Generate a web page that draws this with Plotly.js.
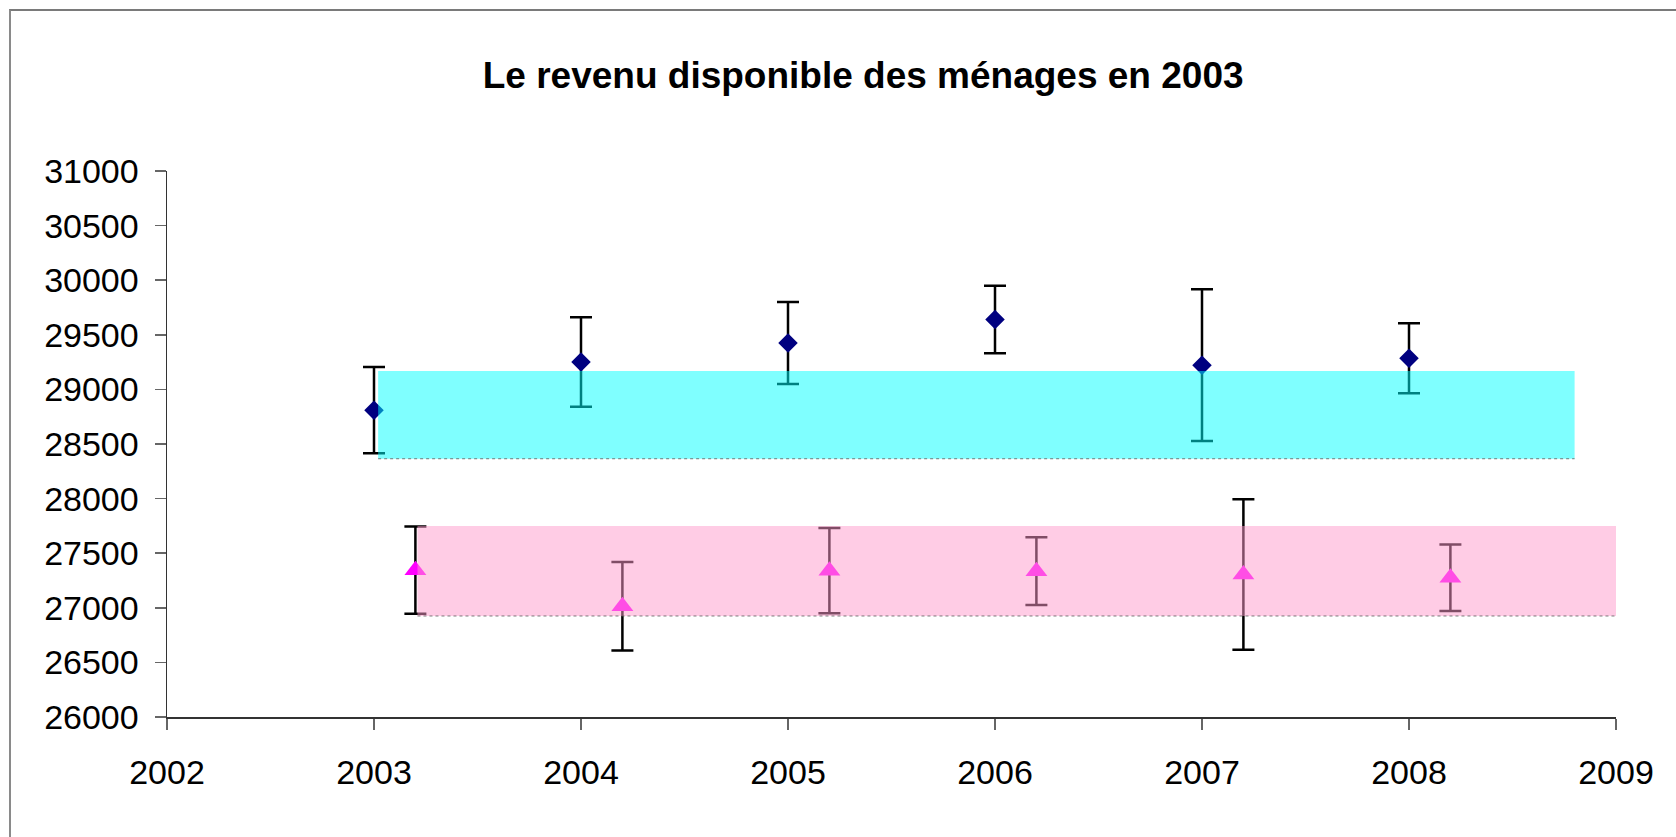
<!DOCTYPE html>
<html>
<head>
<meta charset="utf-8">
<script src="https://cdn.plot.ly/plotly-3.0.1.min.js"></script>
<style>
  html, body { margin: 0; padding: 0; background: #fff; }
  #wrap { position: relative; width: 1676px; height: 837px; }
  #chart { width: 1676px; height: 837px; }
  #frame { position: absolute; left: 9px; top: 9px; right: 0; bottom: 0;
           border-top: 2px solid #7a7a7a; border-left: 2px solid #8a8a8a; pointer-events: none; }
</style>
</head>
<body>
<div id="wrap">
  <div id="chart"></div>
  <div id="frame"></div>
</div>
<script>
// ---- data ----
const yearsA   = [2003, 2004, 2005, 2006, 2007, 2008];
const valuesA  = [28810, 29250, 29425, 29640, 29222, 29285];
const errorsA  = [395, 410, 375, 310, 695, 320];

const yearsB   = [2003.2, 2004.2, 2005.2, 2006.2, 2007.2, 2008.2];
const valuesB  = [27345, 27015, 27340, 27335, 27305, 27275];
const errorsB  = [400, 405, 390, 310, 690, 305];

// shaded bands (x start/end, low, high)
const bandAx   = [2003.02, 2008.8];
const bandAlow = 28365;
const bandAhigh= 29168;
const bandBx   = [2003.21, 2009];
const bandBlow = 26925;
const bandBhigh= 27750;

const xTicks = [2002, 2003, 2004, 2005, 2006, 2007, 2008, 2009];
const yTicks = [26000, 26500, 27000, 27500, 28000, 28500, 29000, 29500, 30000, 30500, 31000];
const titleText = 'Le revenu disponible des ménages en 2003';

function bandTrace(xs, lo, hi, fill) {
  return {
    type: 'scatter', mode: 'lines',
    x: [xs[0], xs[1], xs[1], xs[0], xs[0]],
    y: [lo, lo, hi, hi, lo],
    fill: 'toself', fillcolor: fill,
    line: { width: 0, color: 'rgba(0,0,0,0)' },
    hoverinfo: 'skip', showlegend: false
  };
}
function edgeTrace(xs, lo) {
  return {
    type: 'scatter', mode: 'lines',
    x: [xs[0], xs[1]], y: [lo, lo],
    line: { width: 1, color: 'rgba(90,90,90,0.8)', dash: 'dot' },
    hoverinfo: 'skip', showlegend: false
  };
}

const traces = [
  {
    type: 'scatter', mode: 'markers', x: yearsA, y: valuesA,
    marker: { symbol: 'diamond', size: 15, color: '#000080' },
    error_y: { type: 'data', array: errorsA, visible: true, color: '#000000', thickness: 2.5, width: 11 },
    showlegend: false
  },
  {
    type: 'scatter', mode: 'markers', x: yearsB, y: valuesB,
    marker: { symbol: 'triangle-up', size: 19, color: '#FF00FF' },
    error_y: { type: 'data', array: errorsB, visible: true, color: '#000000', thickness: 2.5, width: 11 },
    showlegend: false
  },
  bandTrace(bandAx, bandAlow, bandAhigh, 'rgba(0,255,255,0.5)'),
  edgeTrace(bandAx, bandAlow),
  bandTrace(bandBx, bandBlow, bandBhigh, 'rgba(255,153,204,0.5)'),
  edgeTrace(bandBx, bandBlow)
];

const layout = {
  width: 1676, height: 837,
  paper_bgcolor: '#ffffff', plot_bgcolor: '#ffffff',
  margin: { l: 167, r: 60, t: 171, b: 120 },
  showlegend: false,
  font: { family: 'Liberation Sans, Arial, sans-serif', color: '#000' },
  title: {
    text: '<b>' + titleText + '</b>',
    font: { family: 'Liberation Sans, Arial, sans-serif', size: 37, color: '#000' },
    x: 0.515, xanchor: 'center', xref: 'container',
    y: 0.91, yanchor: 'middle', yref: 'container'
  },
  xaxis: {
    range: [2002, 2009], tickvals: xTicks, ticktext: xTicks.map(String),
    showgrid: false, zeroline: false,
    showline: true, linecolor: '#333', linewidth: 1.5,
    ticks: 'outside', ticklen: 11, tickwidth: 1.5, tickcolor: '#666',
    tickfont: { family: 'Liberation Sans, Arial, sans-serif', size: 34, color: '#000' },
    ticklabelstandoff: 14
  },
  yaxis: {
    range: [26000, 31000], tickvals: yTicks, ticktext: yTicks.map(String),
    showgrid: false, zeroline: false,
    showline: true, linecolor: '#333', linewidth: 1.5,
    ticks: 'outside', ticklen: 11, tickwidth: 1.5, tickcolor: '#666',
    tickfont: { family: 'Liberation Sans, Arial, sans-serif', size: 34, color: '#000' },
    ticklabelstandoff: 9
  }
};

Plotly.newPlot('chart', traces, layout, { displayModeBar: false, staticPlot: true });
</script>
</body>
</html>
